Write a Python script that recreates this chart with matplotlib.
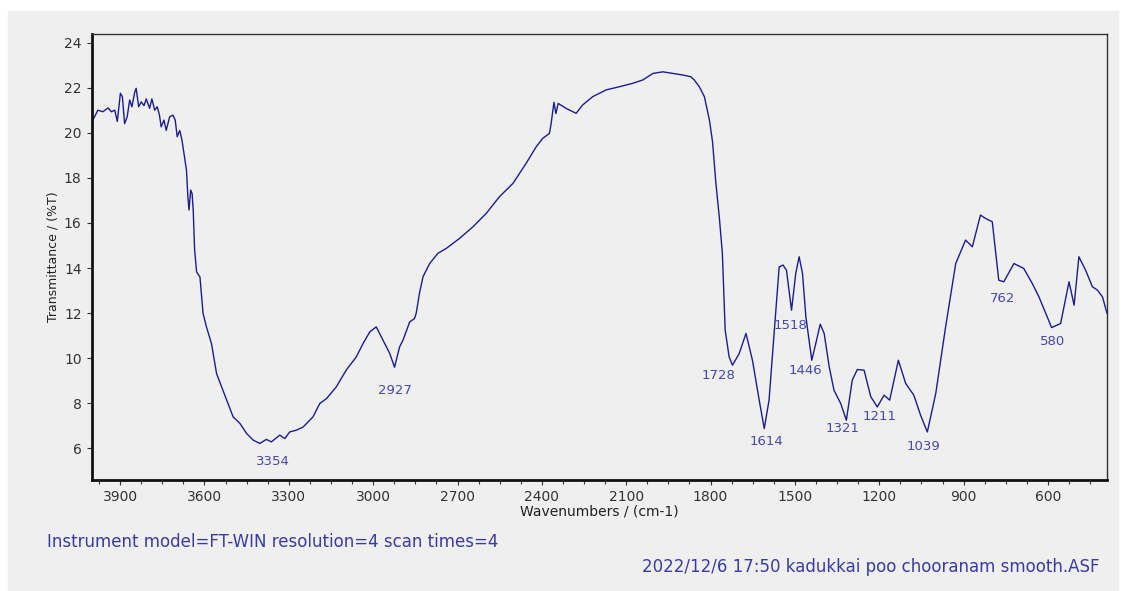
import matplotlib
matplotlib.use("Agg")
import matplotlib.pyplot as plt
from matplotlib.patches import Rectangle

plt.rcParams['font.family'] = ['DejaVu Sans']

# spectrum (wavenumber, %T)
wavenumber = [3997, 3979, 3961, 3943, 3931, 3919, 3910, 3899, 3892, 3884,
              3875, 3866, 3858, 3848, 3843, 3834, 3825, 3815, 3807, 3795,
              3787, 3777, 3768, 3760, 3754, 3744, 3736, 3730, 3724, 3712,
              3704, 3697, 3688, 3680, 3671, 3664, 3659, 3655, 3649, 3644,
              3640, 3635, 3628, 3616, 3605, 3593, 3575, 3557, 3539, 3516,
              3498, 3474, 3450, 3427, 3403, 3380, 3362, 3332, 3314, 3297,
              3273, 3249, 3214, 3190, 3166, 3131, 3096, 3060, 3036, 3012,
              2989, 2965, 2941, 2924, 2906, 2894, 2870, 2853, 2847, 2835,
              2823, 2817, 2799, 2770, 2740, 2693, 2645, 2598, 2551, 2503,
              2456, 2420, 2397, 2373, 2367, 2357, 2350, 2342, 2314, 2278,
              2255, 2219, 2171, 2124, 2077, 2041, 2005, 1970, 1935, 1899,
              1870, 1858, 1840, 1822, 1804, 1793, 1781, 1775, 1769, 1758,
              1748, 1734, 1722, 1698, 1674, 1651, 1627, 1609, 1592, 1574,
              1556, 1542, 1530, 1512, 1497, 1485, 1473, 1461, 1440, 1423,
              1410, 1396, 1378, 1361, 1337, 1317, 1296, 1278, 1254, 1230,
              1207, 1183, 1163, 1132, 1106, 1077, 1053, 1029, 999, 964,
              928, 893, 869, 840, 822, 798, 775, 757, 721, 686,
              656, 632, 608, 587, 555, 525, 507, 490, 466, 442,
              424, 406, 390]
transmittance = [20.56, 21.0, 20.93, 21.1, 20.93, 21.0, 20.5, 21.75, 21.6, 20.4,
                 20.7, 21.45, 21.15, 21.8, 21.97, 21.15, 21.37, 21.2, 21.5, 21.08,
                 21.5, 21.0, 21.15, 20.78, 20.26, 20.56, 20.1, 20.4, 20.7, 20.78,
                 20.56, 19.82, 20.1, 19.67, 18.93, 18.34, 17.16, 16.57, 17.46, 17.3,
                 16.57, 14.8, 13.83, 13.6, 11.99, 11.39, 10.65, 9.32, 8.73, 7.99,
                 7.40, 7.11, 6.66, 6.37, 6.22, 6.40, 6.29, 6.59, 6.44, 6.73,
                 6.81, 6.95, 7.40, 7.99, 8.21, 8.73, 9.47, 10.06, 10.65, 11.17,
                 11.39, 10.8, 10.21, 9.60, 10.5, 10.8, 11.61, 11.76, 11.99, 12.9,
                 13.6, 13.76, 14.2, 14.65, 14.87, 15.31, 15.83, 16.42, 17.16, 17.75,
                 18.64, 19.38, 19.75, 19.97, 20.41, 21.35, 20.85, 21.3, 21.08, 20.86,
                 21.23, 21.6, 21.9, 22.04, 22.19, 22.34, 22.63, 22.7, 22.63, 22.56,
                 22.48, 22.34, 22.04, 21.6, 20.56, 19.6, 17.75, 17.01, 16.27, 14.65,
                 11.25, 10.06, 9.69, 10.21, 11.10, 9.91, 8.14, 6.88, 8.14, 11.10,
                 14.05, 14.13, 13.9, 12.13, 13.76, 14.5, 13.76, 11.84, 9.91, 10.8,
                 11.51, 11.10, 9.62, 8.58, 7.99, 7.25, 9.03, 9.50, 9.47, 8.29,
                 7.84, 8.36, 8.14, 9.91, 8.88, 8.36, 7.47, 6.73, 8.44, 11.39,
                 14.2, 15.24, 14.94, 16.35, 16.2, 16.05, 13.46, 13.39, 14.2, 13.98,
                 13.32, 12.72, 11.99, 11.36, 11.54, 13.39, 12.35, 14.5, 13.9, 13.17,
                 13.02, 12.72, 11.99]

peak_labels = ["3354", "2927", "1728", "1614", "1518", "1446", "1321", "1211", "1039", "762", "580"]
label_x = [3356, 2924, 1772, 1600, 1514, 1461, 1331, 1198, 1044, 760, 582]
label_y = [5.40, 8.58, 9.25, 6.29, 11.47, 9.47, 6.88, 7.40, 6.07, 12.65, 10.73]

xticks = [3900, 3600, 3300, 3000, 2700, 2400, 2100, 1800, 1500, 1200, 900, 600]
yticks = [6, 8, 10, 12, 14, 16, 18, 20, 22, 24]

bg = '#efefef'
fig = plt.figure(figsize=(11.28, 5.91), dpi=100, facecolor='white')
fig.patches.append(Rectangle((8 / 1128, 0), 1110 / 1128, 580 / 591,
                             transform=fig.transFigure, color=bg, zorder=-10))
ax = fig.add_axes([92 / 1128, 1 - 480 / 591, 1015 / 1128, 446.5 / 591])
ax.set_facecolor(bg)

ax.plot(wavenumber, transmittance, color='#1c1c90', lw=1.0)

for t, x, y in zip(peak_labels, label_x, label_y):
    ax.text(x, y, t, color='#4646b4', fontsize=9.5, ha='center', va='center')

ax.set_xlim(4000, 390)
ax.set_ylim(4.6, 24.4)
ax.set_xticks(xticks)
ax.set_yticks(yticks)
ax.set_xticks(range(3975, 390, -75), minor=True)
ax.tick_params(axis='both', which='both', direction='out', length=3.5, width=0.8,
               colors='#333333', labelsize=10, pad=4)
ax.tick_params(axis='x', which='minor', length=3)

for s in ['left', 'bottom']:
    ax.spines[s].set_linewidth(2.0)
    ax.spines[s].set_color('#111111')
for s in ['top', 'right']:
    ax.spines[s].set_linewidth(1.0)
    ax.spines[s].set_color('#333333')

ax.set_xlabel('Wavenumbers / (cm-1)', fontsize=10, color='#222222', labelpad=0)
ax.set_ylabel('Transmittance / (%T)', fontsize=9, color='#222222', labelpad=3)

fig.text(47 / 1128, 1 - 542 / 591, 'Instrument model=FT-WIN resolution=4 scan times=4',
         color='#3a3aa8', fontsize=12, ha='left', va='center')
fig.text(1099 / 1128, 1 - 567 / 591, '2022/12/6 17:50 kadukkai poo chooranam smooth.ASF',
         color='#3a3aa8', fontsize=12, ha='right', va='center')

fig.savefig('out.png', dpi=100, facecolor=fig.get_facecolor())
